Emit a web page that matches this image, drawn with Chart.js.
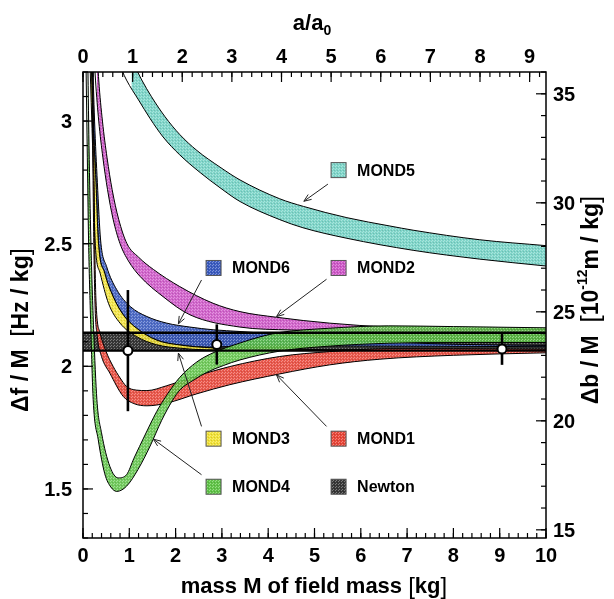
<!DOCTYPE html>
<html lang="en">
<head>
<meta charset="UTF-8">
<title>MOND models vs Newton</title>
<script src="https://cdn.jsdelivr.net/npm/chart.js"></script>
<style>
  body { margin: 0; background: #fff; }
  #wrap { width: 614px; height: 599px; }
</style>
</head>
<body>
<div id="wrap"><canvas id="mondChart" width="614" height="599"></canvas></div>
<script>
const FONT = "'Liberation Sans', Arial, Helvetica, sans-serif";

// axes
const massTicks = [0, 1, 2, 3, 4, 5, 6, 7, 8, 9, 10];
const accelTicks = [0, 1, 2, 3, 4, 5, 6, 7, 8, 9];
const dfTicks = [1.5, 2, 2.5, 3];
const dbTicks = [15, 20, 25, 30, 35];
const massMax = 10;
const accelMax = 9.33;       // a/a0 at M = 10 kg
const dfMin = 1.3, dfMax = 3.2;
const dbPerDf = 11.25;       // right axis: Δb/M = 11.25 * Δf/M

// band edges: [M (kg), Δf/M (Hz/kg)]
const newtonLower = [[0, 2.064], [10, 2.064]];
const newtonUpper = [[0, 2.137], [10, 2.137]];

const mond5Lower = [[0.74, 3.25], [0.94, 3.167], [1.20, 3.086], [1.45, 3.010], [1.73, 2.935], [2.09, 2.862], [2.53, 2.790], [2.96, 2.728], [3.39, 2.672], [4.25, 2.598], [4.75, 2.565], [5.70, 2.522], [7.13, 2.473], [8.57, 2.437], [10, 2.409]];
const mond5Upper = [[1.05, 3.25], [1.27, 3.167], [1.48, 3.099], [1.77, 3.018], [2.09, 2.945], [2.46, 2.880], [2.96, 2.812], [3.39, 2.760], [4.25, 2.683], [4.76, 2.652], [5.70, 2.606], [6.63, 2.572], [7.13, 2.555], [8.57, 2.516], [10, 2.492]];

const mond2Lower = [[0.23, 3.3], [0.27, 3.167], [0.34, 3.0], [0.43, 2.85], [0.53, 2.72], [0.65, 2.60], [0.80, 2.50], [0.98, 2.43], [1.23, 2.367], [1.73, 2.284], [2.31, 2.210], [3.39, 2.160], [4.5, 2.148], [6, 2.143], [10, 2.143]];
const mond2Upper = [[0.30, 3.3], [0.34, 3.167], [0.42, 3.0], [0.52, 2.85], [0.63, 2.72], [0.77, 2.60], [0.95, 2.50], [1.20, 2.445], [1.52, 2.395], [2.09, 2.325], [2.81, 2.257], [3.39, 2.223], [4.18, 2.200], [5.33, 2.176], [6.63, 2.160], [10, 2.150]];

const mond6Lower = [[0.17, 3.3], [0.22, 3.0], [0.28, 2.75], [0.33, 2.515], [0.47, 2.380], [0.65, 2.285], [0.87, 2.210], [1.16, 2.155], [1.59, 2.107], [2.09, 2.087], [2.81, 2.078], [3.39, 2.083], [5, 2.083], [10, 2.080]];
const mond6Upper = [[0.20, 3.3], [0.25, 3.0], [0.31, 2.75], [0.38, 2.515], [0.51, 2.407], [0.73, 2.312], [1.02, 2.244], [1.38, 2.203], [1.81, 2.176], [2.31, 2.160], [2.81, 2.149], [3.39, 2.142], [4.6, 2.125], [6, 2.105], [8, 2.090], [10, 2.085]];

const mond3Lower = [[0.14, 3.3], [0.19, 3.0], [0.23, 2.75], [0.26, 2.515], [0.37, 2.380], [0.55, 2.257], [0.80, 2.176], [1.16, 2.121], [1.59, 2.088], [2.09, 2.074], [2.67, 2.067], [4, 2.065], [10, 2.064]];
const mond3Upper = [[0.17, 3.3], [0.22, 3.0], [0.28, 2.75], [0.33, 2.515], [0.47, 2.380], [0.65, 2.285], [0.87, 2.210], [1.16, 2.155], [1.59, 2.107], [2.09, 2.087], [2.81, 2.075], [4, 2.070], [10, 2.066]];

const mond1Lower = [[0.19, 3.3], [0.21, 2.9], [0.23, 2.55], [0.26, 2.25], [0.31, 2.12], [0.40, 2.04], [0.58, 1.972], [0.87, 1.877], [1.10, 1.848], [1.38, 1.839], [1.81, 1.850], [2.46, 1.888], [3.17, 1.925], [4.25, 1.969], [5.33, 2.006], [6.41, 2.029], [8, 2.045], [10, 2.055]];
const mond1Upper = [[0.21, 3.3], [0.23, 2.9], [0.25, 2.55], [0.28, 2.27], [0.37, 2.136], [0.50, 2.060], [0.65, 2.000], [0.80, 1.953], [0.94, 1.918], [1.15, 1.903], [1.38, 1.901], [1.81, 1.921], [2.46, 1.961], [3.17, 1.999], [4.25, 2.040], [5.33, 2.060], [6.63, 2.072], [8, 2.072], [10, 2.070]];

const mond4Lower = [[0.06, 3.3], [0.09, 2.9], [0.12, 2.515], [0.17, 2.15], [0.22, 1.864], [0.33, 1.700], [0.47, 1.562], [0.60, 1.508], [0.73, 1.490], [0.94, 1.511], [1.19, 1.580], [1.45, 1.675], [1.70, 1.780], [1.93, 1.860], [2.10, 1.905], [2.40, 1.945], [2.67, 1.975], [3.03, 2.003], [3.39, 2.026], [4.25, 2.062], [5.3, 2.082], [6.6, 2.094], [8, 2.097], [10, 2.097]];
const mond4Upper = [[0.10, 3.3], [0.13, 2.9], [0.17, 2.515], [0.23, 2.15], [0.30, 1.864], [0.40, 1.729], [0.58, 1.592], [0.76, 1.545], [0.94, 1.558], [1.10, 1.625], [1.34, 1.720], [1.59, 1.815], [1.80, 1.880], [2.09, 1.955], [2.46, 2.018], [2.81, 2.055], [3.39, 2.095], [3.82, 2.120], [4.25, 2.138], [5.3, 2.155], [6.6, 2.165], [8, 2.162], [10, 2.157]];

// measured points with error bars
const pointMass = [0.97, 2.89, 9.05];
const pointDf = [2.064, 2.089, 2.071];
const pointErr = [0.247, 0.082, 0.065];

// bands from bottom layer to top layer
const bands = [
  { name: 'Newton', lower: newtonLower, upper: newtonUpper, rgb: [55, 55, 55], alpha: 1 },
  { name: 'MOND5', lower: mond5Lower, upper: mond5Upper, rgb: [128, 214, 202], alpha: 1 },
  { name: 'MOND2', lower: mond2Lower, upper: mond2Upper, rgb: [206, 88, 200], alpha: 0.92 },
  { name: 'MOND6', lower: mond6Lower, upper: mond6Upper, rgb: [60, 92, 192], alpha: 0.9 },
  { name: 'MOND3', lower: mond3Lower, upper: mond3Upper, rgb: [242, 226, 56], alpha: 0.9 },
  { name: 'MOND1', lower: mond1Lower, upper: mond1Upper, rgb: [232, 70, 56], alpha: 0.9 },
  { name: 'MOND4', lower: mond4Lower, upper: mond4Upper, rgb: [96, 196, 72], alpha: 0.88 }
];

// legend boxes and arrows, in data units (M, Δf/M)
const legendSpots = {
  MOND5: [5.52, 2.80], MOND6: [2.82, 2.401], MOND2: [5.52, 2.401],
  MOND3: [2.82, 1.705], MOND1: [5.52, 1.705], MOND4: [2.82, 1.509], Newton: [5.52, 1.509]
};
const arrows = [
  [5.29, 2.743, 4.77, 2.673], [2.56, 2.352, 2.06, 2.173], [5.26, 2.355, 4.18, 2.203],
  [2.56, 1.755, 2.06, 2.054], [5.26, 1.755, 4.18, 1.965], [2.56, 1.558, 1.52, 1.703]
];

function hatch(rgb, alpha) {
  const c = document.createElement('canvas');
  c.width = 3; c.height = 3;
  const g = c.getContext('2d');
  g.fillStyle = `rgba(${rgb.join(',')},${alpha})`;
  g.fillRect(0, 0, 3, 3);
  g.fillStyle = 'rgba(255,255,255,0.35)';
  g.fillRect(0, 0, 1, 1);
  g.fillRect(2, 1, 1, 1);
  g.fillStyle = 'rgba(0,0,0,0.12)';
  g.fillRect(1, 2, 1, 1);
  return g.createPattern(c, 'repeat');
}

const toXY = arr => arr.map(p => ({ x: p[0], y: p[1] }));

const datasets = [];
let seq = 0;
bands.forEach(b => {
  b.pattern = hatch(b.rgb, b.alpha);
  b.swatch = hatch(b.rgb, 1);
  datasets.push({
    label: b.name + ' lower', data: toXY(b.lower), borderColor: '#000', borderWidth: 1,
    backgroundColor: b.pattern, fill: '+1', pointRadius: 0, cubicInterpolationMode: 'monotone', order: 1000 - seq++
  });
  datasets.push({
    label: b.name + ' upper', data: toXY(b.upper), borderColor: '#000', borderWidth: 1,
    fill: false, pointRadius: 0, cubicInterpolationMode: 'monotone', order: 1000 - seq++
  });
});
// Newton limits drawn again on top, heavier
datasets.push({ label: 'Newton low', data: toXY(newtonLower), borderColor: '#000', borderWidth: 2.4, fill: false, pointRadius: 0, order: 2 });
datasets.push({ label: 'Newton high', data: toXY(newtonUpper), borderColor: '#000', borderWidth: 2.4, fill: false, pointRadius: 0, order: 2 });
const pointsIndex = datasets.length;
datasets.push({
  label: 'data', data: pointMass.map((m, i) => ({ x: m, y: pointDf[i] })), showLine: false,
  pointRadius: 4.5, pointBackgroundColor: '#fff', pointBorderColor: '#000', pointBorderWidth: 2, order: 0
});

// error bars under the circles
const errorBars = {
  id: 'errorBars',
  beforeDatasetDraw(chart, args) {
    if (args.index !== pointsIndex) return;
    const { ctx, scales: { x, y } } = chart;
    ctx.save();
    ctx.strokeStyle = '#000';
    ctx.lineWidth = 2.6;
    pointMass.forEach((m, i) => {
      const px = x.getPixelForValue(m);
      ctx.beginPath();
      ctx.moveTo(px, y.getPixelForValue(pointDf[i] + pointErr[i]));
      ctx.lineTo(px, y.getPixelForValue(pointDf[i] - pointErr[i]));
      ctx.stroke();
    });
    ctx.restore();
  }
};

function drawRuns(ctx, runs, cx, cy, angle) {
  ctx.save();
  ctx.translate(cx, cy);
  ctx.rotate(angle);
  let total = 0;
  runs.forEach(r => { ctx.font = r.f; r.w = ctx.measureText(r.t).width; total += r.w; });
  let x = -total / 2;
  ctx.fillStyle = '#000';
  ctx.textBaseline = 'middle';
  ctx.textAlign = 'left';
  runs.forEach(r => { ctx.font = r.f; ctx.fillText(r.t, x, r.dy || 0); x += r.w; });
  ctx.restore();
}

const decorations = {
  id: 'decorations',
  afterDraw(chart) {
    const { ctx, chartArea: a, scales } = chart;
    ctx.save();
    // frame
    ctx.strokeStyle = '#000';
    ctx.lineWidth = 1.5;
    ctx.strokeRect(a.left, a.top, a.right - a.left, a.bottom - a.top);
    // inward ticks
    ctx.lineWidth = 1.2;
    const marks = (scale, majors, step, side) => {
      const one = (v, len) => {
        const p = scale.getPixelForValue(v);
        ctx.beginPath();
        if (side === 'bottom') { ctx.moveTo(p, a.bottom); ctx.lineTo(p, a.bottom - len); }
        if (side === 'top') { ctx.moveTo(p, a.top); ctx.lineTo(p, a.top + len); }
        if (side === 'left') { ctx.moveTo(a.left, p); ctx.lineTo(a.left + len, p); }
        if (side === 'right') { ctx.moveTo(a.right, p); ctx.lineTo(a.right - len, p); }
        ctx.stroke();
      };
      const i0 = Math.ceil(scale.min / step - 1e-6), i1 = Math.floor(scale.max / step + 1e-6);
      for (let i = i0; i <= i1; i++) one(i * step, 5);
      majors.forEach(v => one(v, 10));
    };
    marks(scales.x, massTicks, 0.2, 'bottom');
    marks(scales.x2, accelTicks, 0.2, 'top');
    marks(scales.y, dfTicks, 0.1, 'left');
    marks(scales.y2, dbTicks, 1, 'right');

    // tick labels
    ctx.fillStyle = '#000';
    ctx.font = `bold 20px ${FONT}`;
    ctx.textBaseline = 'alphabetic';
    ctx.textAlign = 'center';
    scales.x.ticks.forEach(t => ctx.fillText(String(t.value), scales.x.getPixelForValue(t.value), a.bottom + 24));
    scales.x2.ticks.forEach(t => ctx.fillText(String(t.value), scales.x2.getPixelForValue(t.value), a.top - 9));
    ctx.textAlign = 'right';
    scales.y.ticks.forEach(t => ctx.fillText(String(t.value), a.left - 11, scales.y.getPixelForValue(t.value) + 7));
    ctx.textAlign = 'left';
    scales.y2.ticks.forEach(t => ctx.fillText(String(t.value), a.right + 7, scales.y2.getPixelForValue(t.value) + 7));

    // arrows
    ctx.strokeStyle = '#222';
    ctx.lineWidth = 1;
    arrows.forEach(([m1, f1, m2, f2]) => {
      const x1 = scales.x.getPixelForValue(m1), y1 = scales.y.getPixelForValue(f1);
      const x2 = scales.x.getPixelForValue(m2), y2 = scales.y.getPixelForValue(f2);
      ctx.beginPath(); ctx.moveTo(x1, y1); ctx.lineTo(x2, y2); ctx.stroke();
      const ang = Math.atan2(y2 - y1, x2 - x1), L = 8, w = 0.38;
      ctx.beginPath();
      ctx.moveTo(x2 - L * Math.cos(ang - w), y2 - L * Math.sin(ang - w));
      ctx.lineTo(x2, y2);
      ctx.lineTo(x2 - L * Math.cos(ang + w), y2 - L * Math.sin(ang + w));
      ctx.stroke();
    });

    // legend boxes
    bands.forEach(b => {
      const [m, f] = legendSpots[b.name];
      const cx = scales.x.getPixelForValue(m), cy = scales.y.getPixelForValue(f);
      ctx.fillStyle = b.swatch;
      ctx.fillRect(cx - 7.5, cy - 7.5, 15, 15);
      ctx.strokeStyle = '#555';
      ctx.lineWidth = 1;
      ctx.strokeRect(cx - 7.5, cy - 7.5, 15, 15);
      ctx.fillStyle = '#000';
      ctx.font = `bold 16px ${FONT}`;
      ctx.textBaseline = 'middle';
      ctx.textAlign = 'left';
      ctx.fillText(b.name, cx + 18.5, cy + 1);
    });
    ctx.restore();

    // axis titles
    const B = `bold 22px ${FONT}`, BR = `24px ${FONT}`;
    drawRuns(ctx, [{ t: 'mass M of field mass ', f: B }, { t: '[', f: BR }, { t: 'kg', f: B }, { t: ']', f: BR }], 314, 587, 0);
    drawRuns(ctx, [{ t: 'Δf / M  ', f: `bold 23px ${FONT}` }, { t: '[', f: `26px ${FONT}` }, { t: 'Hz / kg', f: `bold 23px ${FONT}` }, { t: ']', f: `26px ${FONT}` }], 22, 330, -Math.PI / 2);
    drawRuns(ctx, [{ t: 'Δb / M  ', f: `bold 23px ${FONT}` }, { t: '[', f: `26px ${FONT}` }, { t: '10', f: `bold 23px ${FONT}` },
      { t: '-12', f: `bold 14px ${FONT}`, dy: -9 }, { t: 'm / kg', f: `bold 23px ${FONT}` }, { t: ']', f: `26px ${FONT}` }], 592, 300, -Math.PI / 2);
    drawRuns(ctx, [{ t: 'a/a', f: B }, { t: '0', f: `bold 14px ${FONT}`, dy: 7 }], 312, 24, 0);
  }
};

const hiddenTicks = { display: false };

new Chart(document.getElementById('mondChart'), {
  type: 'line',
  data: { datasets },
  options: {
    responsive: false,
    animation: false,
    events: [],
    layout: { padding: 0 },
    elements: { line: { tension: 0, capBezierPoints: false }, point: { radius: 0 } },
    plugins: { legend: { display: false }, tooltip: { enabled: false }, filler: { propagate: false } },
    scales: {
      x: {
        type: 'linear', position: 'bottom', min: 0, max: massMax,
        grid: { display: false }, border: { display: false }, ticks: hiddenTicks,
        afterBuildTicks: s => { s.ticks = massTicks.map(v => ({ value: v })); },
        afterFit: s => { s.height = 61; }
      },
      x2: {
        type: 'linear', position: 'top', min: 0, max: accelMax,
        grid: { display: false }, border: { display: false }, ticks: hiddenTicks,
        afterBuildTicks: s => { s.ticks = accelTicks.map(v => ({ value: v })); },
        afterFit: s => { s.height = 72; }
      },
      y: {
        type: 'linear', position: 'left', min: dfMin, max: dfMax,
        grid: { display: false }, border: { display: false }, ticks: hiddenTicks,
        afterBuildTicks: s => { s.ticks = dfTicks.map(v => ({ value: v })); },
        afterFit: s => { s.width = 83; }
      },
      y2: {
        type: 'linear', position: 'right', min: dfMin * dbPerDf, max: dfMax * dbPerDf,
        grid: { display: false }, border: { display: false }, ticks: hiddenTicks,
        afterBuildTicks: s => { s.ticks = dbTicks.map(v => ({ value: v })); },
        afterFit: s => { s.width = 68; }
      }
    }
  },
  plugins: [errorBars, decorations]
});
</script>
</body>
</html>
